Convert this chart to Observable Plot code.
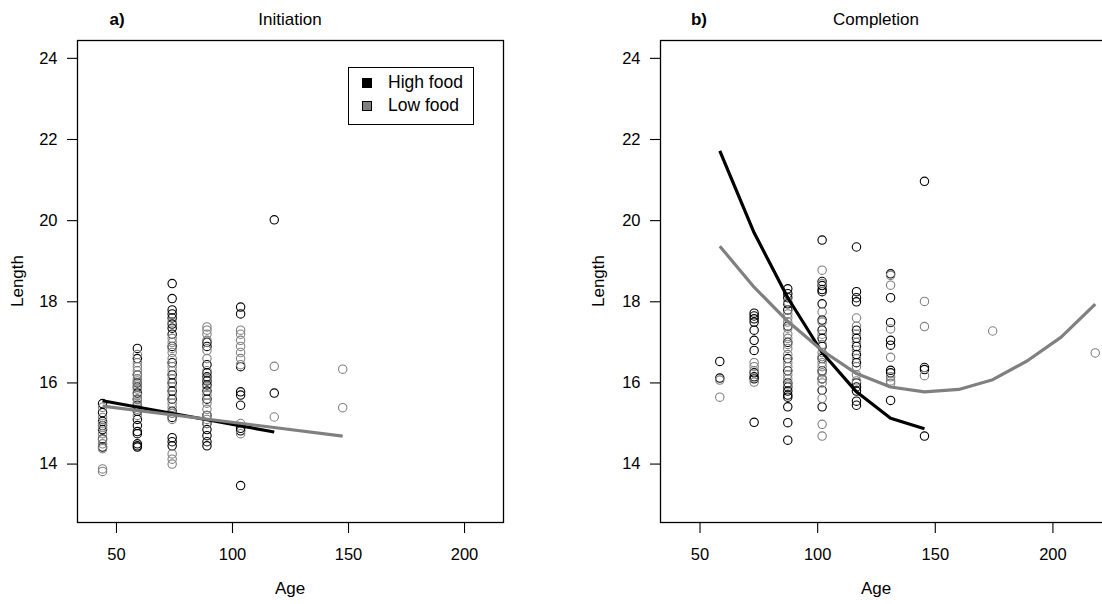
<!DOCTYPE html>
<html>
<head>
<meta charset="utf-8">
<script src="https://cdn.jsdelivr.net/npm/d3@7"></script>
<script src="https://cdn.jsdelivr.net/npm/@observablehq/plot@0.6"></script>
<style>
  html, body { margin: 0; padding: 0; background: #fff; overflow: hidden; }
  #wrap { position: relative; width: 1102px; height: 604px; overflow: hidden; font-family: "Liberation Sans", Arial, Helvetica, sans-serif; color: #000; }
  .panel { position: absolute; top: 0; height: 604px; }
  .panel svg { max-width: none !important; display: block; }
  .lbl { position: absolute; font-size: 17px; white-space: nowrap; line-height: 1; }
  .legend { position: absolute; border: 1.2px solid #000; background: #fff; box-sizing: border-box; }
  .legend .row { position: absolute; left: 13px; display: flex; align-items: center; font-size: 17.5px; line-height: 1; }
  .legend .sw { width: 8px; height: 8px; border: 1px solid #000; margin-right: 16px; }
</style>
</head>
<body>
<div id="wrap">
  <div id="pa" class="panel" style="left:0; width:551px"></div>
  <div id="pb" class="panel" style="left:551px; width:560px"></div>
</div>
<script>
// ---------- Data ----------
const groups = ["High food", "Low food"];
const groupColors = ["#000000", "#808080"];

// Panel a) Initiation
const initAges = [44, 59, 74, 89, 103.5, 118, 147.5];
const initHigh = [
  [15.49, 15.27, 15.05, 14.95, 14.85, 14.62, 14.42],
  [16.85, 16.6, 16.2, 16.0, 15.9, 15.75, 15.6, 15.45, 15.3, 15.1, 14.95, 14.8, 14.75, 14.5, 14.45, 14.42],
  [18.45, 18.08, 17.8, 17.7, 17.6, 17.45, 17.35, 17.2, 16.9, 16.5, 16.2, 16.0, 15.8, 15.6, 15.3, 15.15, 14.65, 14.55, 14.45],
  [17.0, 16.9, 16.45, 16.25, 16.15, 16.05, 15.95, 15.8, 15.6, 15.2, 15.0, 14.85, 14.7, 14.55, 14.45],
  [17.87, 17.7, 16.4, 15.78, 15.7, 15.45, 14.88, 14.82, 13.47],
  [20.02, 15.75],
  []
];
const initLow = [
  [15.4, 15.15, 15.0, 14.9, 14.75, 14.6, 14.5, 14.38, 13.88, 13.82],
  [16.7, 16.5, 16.4, 16.3, 16.2, 16.1, 16.05, 15.95, 15.85, 15.7, 15.6, 15.5, 15.4, 15.35, 15.2],
  [17.5, 17.1, 17.0, 16.85, 16.75, 16.6, 16.4, 16.3, 16.1, 15.9, 15.7, 15.5, 15.4, 15.25, 15.1, 14.25, 14.12, 14.0],
  [17.38, 17.3, 17.2, 17.05, 16.8, 16.6, 16.3, 16.1, 15.9, 15.7, 15.5, 15.35, 15.2, 15.1, 15.0],
  [17.3, 17.2, 17.05, 16.9, 16.75, 16.6, 16.45, 15.0, 14.75],
  [16.41, 15.16],
  [16.34, 15.39]
];
const initHighFitAge = [44, 118];
const initHighFitLen = [15.56, 14.79];
const initLowFitAge = [44, 147.5];
const initLowFitLen = [15.43, 14.69];

// Panel b) Completion
const compAges = [58.4, 73, 87.3, 101.9, 116.5, 131, 145.4, 174.4, 218];
const compHigh = [
  [16.53, 16.12],
  [17.72, 17.65, 17.58, 17.5, 17.3, 17.05, 16.8, 16.25, 16.15, 16.1, 15.03],
  [18.32, 18.2, 18.1, 17.95, 17.8, 17.4, 17.0, 16.6, 16.3, 16.0, 15.9, 15.8, 15.7, 15.65, 15.41, 15.02, 14.59],
  [19.52, 18.5, 18.4, 18.3, 18.25, 17.95, 17.55, 17.3, 17.1, 16.9, 16.6, 16.3, 16.1, 15.82, 15.41],
  [19.35, 18.25, 18.1, 18.0, 17.3, 17.1, 16.9, 16.7, 16.5, 16.0, 15.9, 15.8, 15.55, 15.45],
  [18.69, 18.1, 17.49, 17.05, 16.93, 16.31, 16.25, 15.57],
  [20.97, 16.38, 16.33, 14.69],
  [],
  []
];
const compLow = [
  [16.07, 15.65],
  [16.5, 16.4, 16.3, 16.02],
  [18.0, 17.7, 17.6, 17.5, 17.35, 17.2, 17.1, 16.95, 16.85, 16.7, 16.5, 16.4, 16.2, 16.1, 15.95],
  [18.78, 18.45, 17.75, 17.5, 17.2, 16.95, 16.75, 16.65, 16.5, 16.4, 16.25, 16.1, 16.0, 15.62, 14.98, 14.69],
  [17.6, 17.4, 17.2, 17.0, 16.8, 16.6, 16.4, 16.2, 16.05],
  [18.65, 18.41, 17.33, 16.63, 16.15, 16.05, 15.99],
  [18.01, 17.39, 16.18],
  [17.28],
  [16.74]
];
const compHighFitAge = [58.4, 73, 87.3, 101.9, 116.5, 131, 145.4];
const compHighFitLen = [21.72, 19.7, 18.1, 16.75, 15.78, 15.13, 14.87];
const compLowFitAge = [58.4, 73, 87.3, 101.9, 116.5, 131, 145.4, 160, 174.4, 189, 203.5, 218];
const compLowFitLen = [19.37, 18.36, 17.52, 16.8, 16.23, 15.9, 15.78, 15.84, 16.08, 16.54, 17.13, 17.94];

const xTicks = [50, 100, 150, 200];
const yTicks = [14, 16, 18, 20, 22, 24];
const yDomain = [12.56, 24.44];

// ---------- helpers ----------
function points(ages, high, low) {
  const out = [];
  ages.forEach((a, i) => {
    (high[i] || []).forEach(v => out.push({age: a, len: v, g: groups[0]}));
    (low[i] || []).forEach(v => out.push({age: a, len: v, g: groups[1]}));
  });
  return out;
}
function fit(ages, lens, g) { return ages.map((a, i) => ({age: a, len: lens[i], g})); }

const FONT = '"Liberation Sans", Arial, Helvetica, sans-serif';

function panel({width, marginLeft, marginRight, xDomain, pts, fits}) {
  return Plot.plot({
    width, height: 604,
    marginTop: 40, marginBottom: 82, marginLeft, marginRight,
    style: {fontFamily: FONT, fontSize: "16.5px", color: "#000", background: "transparent", overflow: "visible", maxWidth: "none"},
    x: {domain: xDomain},
    y: {domain: yDomain},
    color: {domain: groups, range: groupColors},
    marks: [
      Plot.dot(pts, {x: "age", y: "len", stroke: "g", fill: "none", r: 4.2, strokeWidth: 1.1}),
      ...fits.map(f => Plot.line(f, {x: "age", y: "len", stroke: "g", strokeWidth: 3.2, strokeLinecap: "butt"})),
      Plot.frame({stroke: "#000", strokeWidth: 1.3}),
      Plot.axisX({ticks: xTicks, tickSize: 11, tickPadding: 15, fontSize: 16.5, label: null, strokeWidth: 1.1}),
      Plot.axisY({ticks: yTicks, tickSize: 10, tickPadding: 10, fontSize: 16.5, label: null, strokeWidth: 1.1})
    ]
  });
}

const ptsA = points(initAges, initHigh, initLow);
const fitsA = [fit(initHighFitAge, initHighFitLen, groups[0]), fit(initLowFitAge, initLowFitLen, groups[1])];
const ptsB = points(compAges, compHigh, compLow);
const fitsB = [fit(compHighFitAge, compHighFitLen, groups[0]), fit(compLowFitAge, compLowFitLen, groups[1])];

document.getElementById("pa").append(panel({width: 551, marginLeft: 77, marginRight: 48, xDomain: [33.2, 216.8], pts: ptsA, fits: fitsA}));
document.getElementById("pb").append(panel({width: 560, marginLeft: 109, marginRight: 0, xDomain: [33.2, 224.9], pts: ptsB, fits: fitsB}));

// ---------- text overlays ----------
const wrap = document.getElementById("wrap");
function label(text, cx, cy, opts = {}) {
  const d = document.createElement("div");
  d.className = "lbl";
  d.textContent = text;
  d.style.left = cx + "px";
  d.style.top = cy + "px";
  d.style.transform = `translate(-50%, -50%)${opts.rotate ? " rotate(-90deg)" : ""}`;
  if (opts.bold) d.style.fontWeight = "bold";
  wrap.append(d);
}
label("a)", 117, 19, {bold: true});
label("Initiation", 290, 19);
label("b)", 699, 19, {bold: true});
label("Completion", 876, 19);
label("Age", 290, 588);
label("Age", 876, 588);
label("Length", 17, 281, {rotate: true});
label("Length", 598, 281, {rotate: true});

// legend
const lg = document.createElement("div");
lg.className = "legend";
Object.assign(lg.style, {left: "348px", top: "67px", width: "126px", height: "58px"});
groups.forEach((g, i) => {
  const row = document.createElement("div");
  row.className = "row";
  row.style.top = (6 + i * 23) + "px";
  const sw = document.createElement("div");
  sw.className = "sw";
  sw.style.background = groupColors[i];
  const t = document.createElement("span");
  t.textContent = g;
  row.append(sw, t);
  lg.append(row);
});
wrap.append(lg);
</script>
</body>
</html>
